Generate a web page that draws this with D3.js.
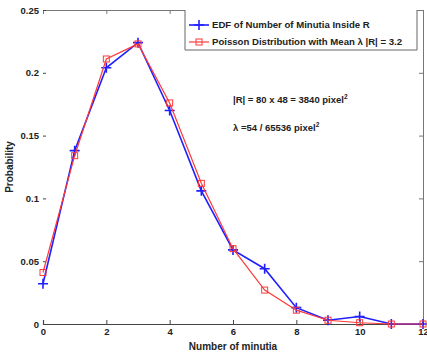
<!DOCTYPE html>
<html>
<head>
<meta charset="utf-8">
<script src="https://cdn.jsdelivr.net/npm/d3@7"></script>
<style>
  body { margin: 0; background: #fff; }
  svg { display: block; font-family: "Liberation Sans", Arial, sans-serif; }
  .tick text { font-size: 9.5px; font-weight: bold; fill: #222; }
</style>
</head>
<body>
<div id="chart"></div>
<script>
const minutia = [0, 1, 2, 3, 4, 5, 6, 7, 8, 9, 10, 11, 12];
const edf = [0.032, 0.138, 0.204, 0.224, 0.170, 0.106, 0.059, 0.044, 0.013, 0.003, 0.006, 0, 0];
const poisson = [0.041, 0.134, 0.211, 0.223, 0.176, 0.112, 0.060, 0.027, 0.011, 0.003, 0.001, 0, 0];
const xTicks = [0, 2, 4, 6, 8, 10, 12];
const yTicks = [0, 0.05, 0.1, 0.15, 0.2, 0.25];
const yTickLabels = ["0", "0.05", "0.1", "0.15", "0.2", "0.25"];
const legendLabels = ["EDF of Number of Minutia Inside R", "Poisson Distribution with Mean \u03bb |R| = 3.2"];

const svgWidth = 427;
const svgHeight = 355;
const margin = { top: 10, right: 4, bottom: 31, left: 43 };
const width = svgWidth - margin.left - margin.right;
const height = svgHeight - margin.top - margin.bottom;

const blue = "#1f1fff";
const red = "#ff3838";

const svg = d3.select("#chart")
    .append("svg")
    .attr("width", svgWidth)
    .attr("height", svgHeight)
    .append("g")
    .attr("transform", `translate(${margin.left},${margin.top})`);

const x = d3.scaleLinear().domain([0, 12]).range([0, width]);
const y = d3.scaleLinear().domain([0, 0.25]).range([height, 0]);

// box: top and right with inward ticks
svg.append("g")
    .call(d3.axisTop(x).tickValues(xTicks).tickSize(-4).tickFormat(""))
    .call(g => g.selectAll("path, line").attr("stroke", "#777"));

svg.append("g")
    .attr("transform", `translate(${width},0)`)
    .call(d3.axisRight(y).tickValues(yTicks).tickSize(-4).tickFormat(""))
    .call(g => g.selectAll("path, line").attr("stroke", "#777"));

// bottom axis
svg.append("g")
    .attr("transform", `translate(0,${height})`)
    .call(d3.axisBottom(x).tickValues(xTicks).tickSize(-4).tickPadding(4).tickFormat(d3.format("d")))
    .call(g => g.select(".domain").attr("stroke", "#444").attr("stroke-width", 1.2))
    .call(g => g.selectAll(".tick line").attr("stroke", "#444"));

// left axis (line faded in the original)
svg.append("g")
    .call(d3.axisLeft(y).tickValues(yTicks).tickSize(-3).tickPadding(4)
        .tickFormat((d, i) => yTickLabels[i]))
    .call(g => g.select(".domain").attr("stroke", "none"))
    .call(g => g.selectAll(".tick line").attr("stroke", "#444"));

// lines
const line = d3.line()
    .x((d, i) => x(minutia[i]))
    .y(d => y(d));

svg.append("path")
    .datum(edf)
    .attr("fill", "none")
    .attr("stroke", blue)
    .attr("stroke-width", 1.6)
    .attr("d", line);

svg.append("g")
    .selectAll("path")
    .data(edf)
    .join("path")
    .attr("transform", (d, i) => `translate(${x(minutia[i])},${y(d)})`)
    .attr("d", "M-5,0H5M0,-5V5")
    .attr("stroke", blue)
    .attr("stroke-width", 1.6);

svg.append("path")
    .datum(poisson)
    .attr("fill", "none")
    .attr("stroke", red)
    .attr("stroke-width", 1.2)
    .attr("d", line);

svg.append("g")
    .selectAll("rect")
    .data(poisson)
    .join("rect")
    .attr("x", (d, i) => x(minutia[i]) - 3)
    .attr("y", d => y(d) - 3)
    .attr("width", 6)
    .attr("height", 6)
    .attr("fill", "none")
    .attr("stroke", red)
    .attr("stroke-width", 1);

// legend
const legend = svg.append("g").attr("transform", "translate(142,0)");

legend.append("path")
    .attr("d", "M0,0V40H232V0")
    .attr("fill", "#fff")
    .attr("stroke", "#666");

const legendColors = [blue, red];
legendLabels.forEach((label, i) => {
    const ly = 15 + i * 17;
    legend.append("line")
        .attr("x1", 4).attr("x2", 24)
        .attr("y1", ly).attr("y2", ly)
        .attr("stroke", legendColors[i])
        .attr("stroke-width", i ? 1.2 : 1.6);
    if (i === 0) {
        legend.append("path")
            .attr("d", `M9,${ly}H19M14,${ly - 5}V${ly + 5}`)
            .attr("stroke", blue)
            .attr("stroke-width", 1.6);
    } else {
        legend.append("rect")
            .attr("x", 11).attr("y", ly - 3)
            .attr("width", 6).attr("height", 6)
            .attr("fill", "none")
            .attr("stroke", red);
    }
    legend.append("text")
        .attr("x", 27)
        .attr("y", ly)
        .attr("dy", "0.35em")
        .attr("font-size", 9.6)
        .attr("font-weight", "bold")
        .attr("fill", "#222")
        .text(label);
});

// annotations
const note1 = svg.append("text")
    .attr("x", 190).attr("y", 93)
    .attr("font-size", 9.5).attr("font-weight", "bold").attr("fill", "#222")
    .text("|R| = 80 x 48 = 3840 pixel");
note1.append("tspan").attr("dy", -4).attr("font-size", 6.5).text("2");

const note2 = svg.append("text")
    .attr("x", 190).attr("y", 121)
    .attr("font-size", 9.5).attr("font-weight", "bold").attr("fill", "#222")
    .text("\u03bb =54 / 65536 pixel");
note2.append("tspan").attr("dy", -4).attr("font-size", 6.5).text("2");

// axis labels
svg.append("text")
    .attr("x", width / 2)
    .attr("y", height + 26)
    .attr("text-anchor", "middle")
    .attr("font-size", 10)
    .attr("font-weight", "bold")
    .attr("fill", "#222")
    .text("Number of minutia");

svg.append("text")
    .attr("transform", "rotate(-90)")
    .attr("x", -height / 2)
    .attr("y", -30)
    .attr("text-anchor", "middle")
    .attr("font-size", 10)
    .attr("font-weight", "bold")
    .attr("fill", "#222")
    .text("Probability");
</script>
</body>
</html>
